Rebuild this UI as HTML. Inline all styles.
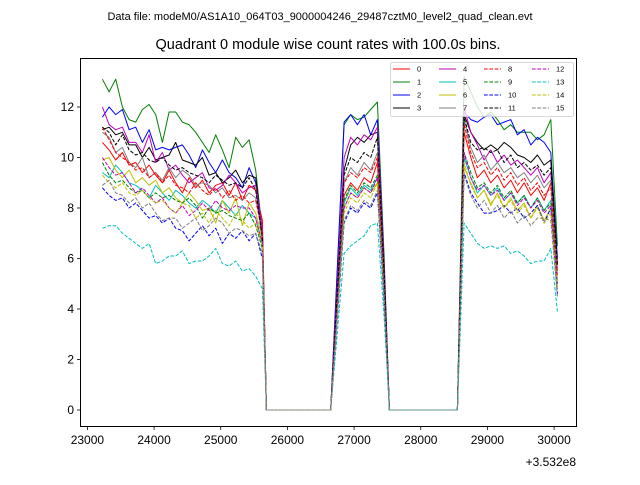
<!DOCTYPE html>
<html><head><meta charset="utf-8"><style>
body{margin:0;background:#fff;}
svg{font-family:"Liberation Sans","DejaVu Sans",sans-serif;}
</style></head><body>
<svg id="c" width="640" height="480" viewBox="0 0 640 480">
<rect width="640" height="480" fill="#fff"/>
<text x="320" y="20" font-size="11" text-anchor="middle">Data file: modeM0/AS1A10_064T03_9000004246_29487cztM0_level2_quad_clean.evt</text>
<text x="328" y="49" font-size="14.5" text-anchor="middle">Quadrant 0 module wise count rates with 100.0s bins.</text>
<g id="plot"></g>
<rect x="80.5" y="58.5" width="496" height="368" fill="none" stroke="#000" stroke-width="1"/>
<g id="axes"></g>
<text x="576" y="466" font-size="12" text-anchor="end">+3.532e8</text>
<g id="legend"></g>
</svg>
<script>
const times = [23225,23325,23425,23525,23625,23725,23825,23925,24025,24125,24225,24325,24425,24525,24625,24725,24825,24925,25025,25125,25225,25325,25425,25525,25625,
25685,26650,
26750,26850,26950,27050,27150,27250,27350,27450,
27530,28550,
28650,28750,28850,28950,29050,29150,29250,29350,29450,29550,29650,29750,29850,29950,30050];
const xTicks = [23000,24000,25000,26000,27000,28000,29000,30000];
const yTicks = [0,2,4,6,8,10,12];
const colors = ['#ff0000','#008000','#0000ff','#000000','#bf00bf','#00bfbf','#bfbf00','#808080'];
const modules = ['0','1','2','3','4','5','6','7','8','9','10','11','12','13','14','15'];
const seg1 = [
[10.6,10.3,9.9,10.2,9.7,9.8,9.4,9.7,9.3,9.0,9.5,9.0,8.6,9.2,8.8,9.1,8.6,8.9,9.0,8.5,9.0,8.3,8.9,8.7,7.5],
[13.1,12.6,13.1,12.0,11.5,11.4,11.9,12.1,11.7,10.6,11.8,11.8,11.4,11.3,11.0,10.6,10.2,10.9,10.3,9.6,10.8,10.4,10.7,9.5,7.0],
[11.6,12.0,11.7,11.9,11.1,11.2,10.6,11.1,10.3,10.4,10.3,10.4,10.5,10.1,9.6,10.3,9.8,9.4,9.9,9.4,9.2,8.8,9.6,9.0,6.6],
[11.1,11.2,10.9,11.0,10.5,10.5,10.0,10.4,9.9,10.0,10.1,10.6,9.9,9.8,9.7,10.0,9.3,9.4,9.0,9.2,9.5,9.0,9.3,9.2,7.0],
[12.0,11.3,11.1,11.2,10.6,10.6,10.2,10.9,9.8,10.2,9.5,9.7,9.3,9.0,9.2,9.4,8.8,8.7,8.9,9.3,9.0,8.6,8.8,8.9,7.2],
[9.4,9.2,9.7,9.4,9.0,8.9,8.7,8.4,8.9,8.6,8.3,8.7,8.5,8.2,8.0,8.3,8.1,7.8,8.3,8.0,7.7,8.1,7.8,7.6,6.5],
[9.9,10.0,9.5,9.2,9.5,9.0,9.2,8.9,9.1,8.6,8.8,8.4,8.2,8.6,8.3,7.9,8.0,7.4,8.3,7.8,8.4,7.3,8.2,7.8,6.8],
[11.0,10.8,10.2,10.4,9.8,9.6,10.0,9.2,9.4,9.1,9.6,9.2,9.5,9.3,8.9,9.0,8.9,8.6,8.8,8.4,8.5,8.3,8.6,8.4,7.0],
[11.2,10.7,10.2,10.0,9.8,9.5,9.6,9.2,9.4,9.0,9.3,8.9,8.8,8.6,9.0,8.7,8.5,8.8,8.4,8.7,8.3,8.5,8.2,8.3,7.0],
[9.8,9.3,9.0,9.1,8.8,8.6,8.7,8.4,8.6,8.4,8.5,8.3,8.2,8.4,8.1,7.6,8.0,7.8,7.9,7.7,7.6,7.5,7.8,7.3,6.4],
[8.8,8.5,8.3,8.4,8.0,8.2,7.9,7.6,7.7,7.4,7.6,7.2,7.1,6.7,7.0,7.3,6.9,7.2,6.6,7.0,6.8,7.1,6.7,7.0,6.0],
[11.2,11.0,10.5,10.9,10.3,10.1,10.2,9.9,9.8,10.0,9.7,9.5,9.6,9.4,9.3,9.2,9.0,9.3,9.1,8.9,9.0,8.8,9.2,8.7,6.8],
[10.0,9.6,9.3,9.4,9.0,8.6,8.8,8.5,8.2,8.4,8.0,7.8,8.1,7.7,7.9,8.2,7.9,8.3,8.0,7.9,8.1,8.0,8.0,7.6,6.6],
[7.2,7.3,7.3,7.0,6.8,6.6,6.4,6.6,5.8,5.9,6.1,6.1,6.3,5.8,5.9,5.9,6.1,6.4,5.8,5.7,5.9,5.5,5.6,5.3,4.8],
[9.3,9.0,8.8,9.0,8.6,8.5,8.7,8.4,8.2,8.3,8.0,7.8,8.2,8.1,7.6,7.8,7.4,7.9,7.6,7.3,7.8,7.5,7.2,7.4,6.5],
[8.9,9.1,8.6,8.5,8.2,8.4,8.0,8.2,7.8,7.5,7.6,7.6,7.2,7.4,7.6,7.1,7.3,7.6,7.4,7.0,7.2,7.1,6.9,7.0,6.2]];
const seg2 = [
[4.2,8.5,9.0,8.7,9.2,9.0,9.8,4.9],
[5.6,11.3,11.7,11.5,11.6,11.9,12.2,6.1],
[5.7,11.4,11.7,11.3,11.7,10.9,11.5,5.8],
[4.8,9.5,10.5,10.8,10.6,10.9,11.0,5.5],
[5.0,10.0,10.8,10.5,10.9,10.7,11.2,5.6],
[4.1,8.2,8.8,8.5,8.9,8.7,9.2,4.6],
[4.0,8.0,8.6,8.4,8.8,8.6,9.0,4.5],
[4.5,9.0,9.6,9.3,9.8,9.5,10.2,5.1],
[4.5,9.0,9.4,9.2,9.6,9.4,10.0,5.0],
[4.2,8.3,8.9,8.6,9.0,8.8,9.3,4.7],
[3.7,7.4,8.0,7.8,8.2,8.0,8.6,4.3],
[4.7,9.3,10.0,9.8,10.2,10.0,10.8,5.4],
[4.0,8.0,8.6,8.4,8.8,8.6,9.2,4.6],
[3.1,6.2,6.5,6.7,6.9,7.3,7.4,3.7],
[3.9,7.8,8.4,8.2,8.6,8.4,9.0,4.5],
[3.8,7.5,8.1,7.9,8.3,8.1,8.7,4.4]];
const seg3 = [
[11.0,10.0,9.2,9.5,9.0,9.3,8.8,9.1,8.6,9.0,8.5,8.8,8.3,9.0,5.5],
[13.2,12.6,12.0,11.6,11.8,11.5,11.1,11.3,11.0,11.0,11.0,10.7,10.9,11.5,6.5],
[11.8,11.5,11.4,11.6,11.7,11.3,11.4,11.5,10.9,11.1,10.5,10.8,10.6,10.2,6.0],
[11.7,11.0,10.6,10.3,10.5,10.3,10.6,10.4,10.1,10.0,9.8,10.1,9.7,9.9,5.8],
[12.0,11.0,10.5,9.9,10.3,9.8,10.1,9.7,9.9,9.6,9.3,9.6,9.0,9.4,5.6],
[10.0,9.2,8.6,8.9,8.5,8.8,8.3,8.6,8.2,8.5,8.0,8.4,7.9,8.3,5.0],
[9.6,9.0,8.4,8.7,8.1,8.6,8.0,8.4,7.9,8.2,7.6,8.1,7.5,8.0,4.8],
[11.5,10.4,9.8,10.1,9.5,9.8,9.4,9.6,9.2,9.4,9.0,9.3,8.8,9.1,5.5],
[11.3,10.2,9.6,9.8,9.3,9.6,9.1,9.4,8.9,9.2,8.7,9.0,8.5,8.8,5.3],
[10.2,9.4,8.8,9.0,8.6,8.9,8.4,8.7,8.2,8.5,8.0,8.4,7.9,8.2,5.0],
[9.4,8.6,8.2,7.8,7.8,7.9,8.1,7.8,8.0,7.6,7.8,8.1,7.4,8.0,4.6],
[11.6,10.6,10.3,10.4,10.2,10.3,9.8,10.1,9.6,9.8,9.5,9.7,9.3,9.6,5.7],
[10.2,9.2,8.7,8.9,8.5,8.7,8.3,8.6,8.1,8.4,8.0,8.3,7.8,8.1,4.9],
[7.4,7.0,6.6,6.4,6.5,6.4,6.5,6.2,6.3,6.1,5.8,5.9,5.9,6.4,3.9],
[9.8,8.9,8.4,8.7,8.2,8.5,8.0,8.3,7.8,8.1,7.6,8.0,7.4,7.8,4.8],
[9.3,8.5,8.0,8.3,7.8,8.1,7.6,7.9,7.4,7.7,7.3,7.6,7.6,7.5,4.5]];
const gapValues = [0,0];

const NS = 'http://www.w3.org/2000/svg';
const X = v => 87.4 + (v - 23000) * 0.06667;
const Y = v => 410 - v * 25.25;
function mk(tag, attrs, parent){const e=document.createElementNS(NS,tag);for(const k in attrs)e.setAttribute(k,attrs[k]);parent.appendChild(e);return e;}
const axes = document.getElementById('axes');
xTicks.forEach(v=>{
  const l = mk('line',{x1:X(v),x2:X(v),y1:426.5,y2:430,stroke:'#000','stroke-width':0.8},axes);
  
  
  const t = mk('text',{x:X(v),y:444,'font-size':12,'text-anchor':'middle'},axes);
  t.textContent = v;
  
  
});
yTicks.forEach(v=>{
  const l = mk('line',{x1:77,x2:80.5,y1:Y(v),y2:Y(v),stroke:'#000','stroke-width':0.8},axes);
  
  
  const t = mk('text',{x:74,y:Y(v)+4,'font-size':12,'text-anchor':'end'},axes);
  t.textContent = v;
  
  
});
const plot = document.getElementById('plot');
modules.forEach((m,i)=>{
  const vals = seg1[i].concat(gapValues, seg2[i], gapValues, seg3[i]);
  const pts = vals.map((v,k)=>X(times[k]).toFixed(1)+','+Y(v).toFixed(1)).join(' ');
  const p = mk('polyline',{points:pts,fill:'none',stroke:colors[i%8],'stroke-width':1,'stroke-linejoin':'round'},plot);
  if(i>=8) p.setAttribute('stroke-dasharray','3.7,1.6');
  
  
});
const lg = document.getElementById('legend');
mk('rect',{x:390.5,y:62.5,width:183,height:54,rx:2,fill:'#fff','fill-opacity':0.8,stroke:'#ccc','stroke-width':0.8},lg);
const colX=[393,439,484,532], rowY=[69,82,95,108];
modules.forEach((m,i)=>{
  const c=Math.floor(i/4), r=i%4;
  const l = mk('line',{x1:colX[c],x2:colX[c]+17,y1:rowY[r],y2:rowY[r],stroke:colors[i%8],'stroke-width':1},lg);
  if(i>=8) l.setAttribute('stroke-dasharray','3.7,1.6');
  
  
  const t = mk('text',{x:colX[c]+24,y:rowY[r]+2.5,'font-size':7.5},lg);
  t.textContent = m;
  
  
});
</script>
</body></html>
